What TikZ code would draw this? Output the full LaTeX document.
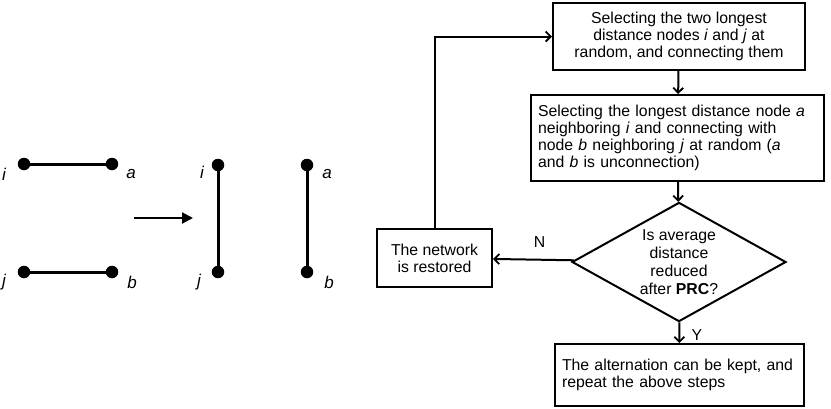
\documentclass[tikz,border=0pt]{standalone}
\usepackage{fontspec}
\setmainfont{Liberation Sans}
\usetikzlibrary{shapes.geometric,arrows.meta}
\begin{document}
\begin{tikzpicture}[x=1pt,y=-1pt,
  every node/.style={font=\fontsize{15.8}{17}\selectfont},
  dot/.style={circle,fill=black,inner sep=0pt,minimum size=12.5pt},
  edge/.style={line width=3pt},
  lbl/.style={font=\fontsize{17}{17}\selectfont\itshape,inner sep=0pt},
  box/.style={draw,line width=2pt,inner sep=0pt},
  flow/.style={line width=2pt,-{Straight Barb[length=5pt,width=10pt,line width=1.8pt]}},
  ]
\useasboundingbox (0,0) rectangle (831,408);
% left network
\node[dot] (i1) at (24,164) {};
\node[dot] (a1) at (112,164) {};
\node[dot] (j1) at (24,272) {};
\node[dot] (b1) at (112,272) {};
\draw[edge] (i1) -- (a1);
\draw[edge] (j1) -- (b1);
\node[lbl] (li1) at (4,174) {i};
\node[lbl] (la1) at (131,174) {a};
\node[lbl] (lj1) at (4,282) {j};
\node[lbl] (lb1) at (132,282) {b};
\coordinate (arS) at (134,218);
\coordinate (arE) at (193,218);
\draw[line width=2.2pt,-{Triangle[length=11pt,width=11pt]}] (arS) -- (arE);
\node[dot] (i2) at (218,165) {};
\node[dot] (j2) at (218,272) {};
\node[dot] (a2) at (307,165) {};
\node[dot] (b2) at (307,272) {};
\draw[edge] (i2) -- (j2);
\draw[edge] (a2) -- (b2);
\node[lbl] (li2) at (202,172) {i};
\node[lbl] (lj2) at (199,282) {j};
\node[lbl] (la2) at (327,174) {a};
\node[lbl] (lb2) at (329,282) {b};
% flowchart
\node[box,minimum width=252pt,minimum height=67pt,align=center] (s1) at (679,36.5)
  {Selecting the two longest\\distance nodes \textit{i} and \textit{j} at\\random, and connecting them};
\node[box,minimum width=293pt,minimum height=86pt,text width=279pt,inner xsep=7pt,align=left] (s2) at (677.5,138)
  {Selecting the longest distance node \textit{a}\\neighboring \textit{i} and connecting with\\node \textit{b} neighboring \textit{j} at random (\textit{a}\\and \textit{b} is unconnection)};
\node[draw,line width=2pt,diamond,minimum width=214pt,minimum height=113pt,inner sep=-6pt,
  align=center,font=\fontsize{15.8}{18}\selectfont] (d) at (679,262)
  {Is average\\distance\\reduced\\after \textbf{PRC}?};
\node[box,minimum width=115pt,minimum height=58pt,align=center] (r) at (434.5,258)
  {The network\\is restored};
\node[box,minimum width=249pt,minimum height=62pt,text width=235pt,inner xsep=7pt,align=left] (s3) at (679.5,375)
  {The alternation can be kept, and\\repeat the above steps};
\draw[flow] (s1) -- (s2);
\draw[flow] (s2) -- (d);
\draw[flow] (d) -- node[right,xshift=8pt,yshift=-2pt] (yl) {Y} (s3);
\draw[flow] (d) -- node[above,yshift=8pt,xshift=6pt] (nl) {N} (r);
\draw[flow] (r.north) |- (s1.west);
\end{tikzpicture}
\end{document}
